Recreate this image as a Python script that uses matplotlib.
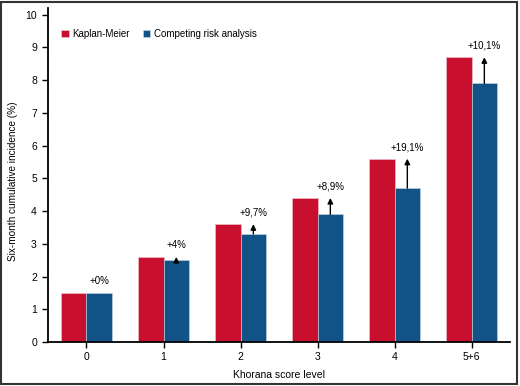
import matplotlib
matplotlib.use("Agg")
import numpy as np
import matplotlib.pyplot as plt
from matplotlib.patches import Rectangle

# data
categories = ["0", "1", "2", "3", "4", "5+6"]
kaplan_meier = [1.5, 2.6, 3.6, 4.4, 5.6, 8.7]
competing_risk = [1.5, 2.5, 3.3, 3.9, 4.7, 7.9]
increase_labels = ["+0%", "+4%", "+9,7%", "+8,9%", "+19,1%", "+10,1%"]

RED = "#C8102E"
BLUE = "#115287"

plt.rcParams["font.family"] = ["Liberation Sans", "DejaVu Sans"]

fig = plt.figure(figsize=(5.2, 3.86), dpi=100)
ax = fig.add_axes([0.0923, 0.114, 0.8885, 0.865])

x = np.arange(len(categories))
w = 0.333
ax.bar(x - w / 2, kaplan_meier, w, color=RED, edgecolor="#f3c9cf", lw=0.4,
       label="Kaplan-Meier")
ax.bar(x + w / 2, competing_risk, w, color=BLUE, edgecolor="#c9d6e4", lw=0.4,
       label="Competing risk analysis")

# arrows from competing risk bar up to Kaplan-Meier level + percent label
for xi, km, cr, lab in zip(x, kaplan_meier, competing_risk, increase_labels):
    if km > cr:
        ax.annotate("", xy=(xi + w / 2, km), xytext=(xi + w / 2, cr),
                    arrowprops=dict(arrowstyle="-|>", color="black", lw=1.0,
                                    mutation_scale=8, shrinkA=0, shrinkB=0))
    ax.text(xi + w / 2, km + 0.2, lab, ha="center", va="bottom",
            fontsize=7)

ax.set_xlim(-0.5, 5.5)
ax.set_ylim(0, 10.2)
ax.set_yticks(range(0, 11))
ax.set_xticks(x)
ax.set_xticklabels(categories)
ax.tick_params(axis="both", labelsize=7.5, length=4, width=1, direction="out",
               color="black", pad=3)
ax.tick_params(axis="y", pad=4)
for s in ["top", "right"]:
    ax.spines[s].set_visible(False)
for s in ["left", "bottom"]:
    ax.spines[s].set_linewidth(1.3)

ax.set_xlabel("Khorana score level", fontsize=7.5, labelpad=6)
ax.set_ylabel("Six-month cumulative incidence (%)", fontsize=7.2, labelpad=3)
ax.yaxis.set_label_coords(-0.065, 0.48)

ax.legend(loc="upper left", bbox_to_anchor=(0.01, 0.965), ncol=2, frameon=False,
          fontsize=7, handlelength=0.75, handleheight=0.75, handletextpad=0.4,
          columnspacing=1.3)

# dark frame around the figure
fig.patches.append(Rectangle((0.002, 0.006), 0.992, 0.99, transform=fig.transFigure,
                             fill=False, edgecolor="#333333", lw=1.5))

fig.savefig("out.png", dpi=100)
